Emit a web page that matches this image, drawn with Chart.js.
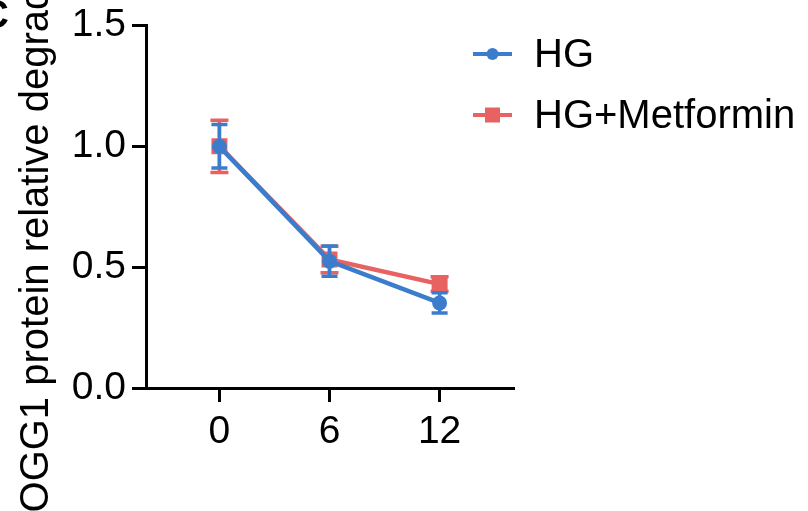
<!DOCTYPE html>
<html>
<head>
<meta charset="utf-8">
<script src="https://cdn.jsdelivr.net/npm/chart.js@4"></script>
<style>
  html, body { margin: 0; padding: 0; background: #fff; }
</style>
</head>
<body>
<canvas id="chart" width="808" height="511"></canvas>
<script>
const timepoints = [0, 6, 12];
const hgValues = [1.0, 0.525, 0.352];
const hgErrors = [0.09, 0.063, 0.042];
const metforminValues = [1.0, 0.532, 0.43];
const metforminErrors = [0.108, 0.055, 0.03];
const yTicks = [0, 0.5, 1.0, 1.5];

const blue = '#3b7dcc';
const red = '#e86262';

Chart.defaults.font.family = '"Liberation Sans", Arial, sans-serif';
Chart.defaults.color = '#000';

// error bars drawn under each dataset's own markers
const errorBars = {
  id: 'errorBars',
  beforeDatasetDraw(chart, args) {
    const ds = chart.data.datasets[args.index];
    const { x, y } = chart.scales;
    const ctx = chart.ctx;
    const half = ds.capHalf;
    ctx.save();
    ctx.strokeStyle = ds.borderColor;
    ctx.lineWidth = 3.5;
    ds.errors.forEach((e, i) => {
      const px = x.getPixelForValue(ds.data[i].x);
      const top = y.getPixelForValue(ds.data[i].y + e);
      const bot = y.getPixelForValue(ds.data[i].y - e);
      ctx.beginPath();
      ctx.moveTo(px, top); ctx.lineTo(px, bot);
      ctx.moveTo(px - half, top); ctx.lineTo(px + half, top);
      ctx.moveTo(px - half, bot); ctx.lineTo(px + half, bot);
      ctx.stroke();
    });
    ctx.restore();
  }
};

// legend with line + marker, sitting over the right edge of the plot
const sideLegend = {
  id: 'sideLegend',
  afterDraw(chart) {
    const ctx = chart.ctx;
    const area = chart.chartArea;
    ctx.save();
    chart.data.datasets.forEach((ds, i) => {
      const yy = 54 + i * 61;
      const x0 = area.right - 40, x1 = area.right - 1, xm = (x0 + x1) / 2;
      ctx.strokeStyle = ds.borderColor;
      ctx.fillStyle = ds.borderColor;
      ctx.lineWidth = 4;
      ctx.beginPath();
      ctx.moveTo(x0, yy); ctx.lineTo(x1, yy);
      ctx.stroke();
      if (ds.pointStyle === 'rect') {
        ctx.fillRect(xm - 7.5, yy - 7.5, 15, 15);
      } else {
        ctx.beginPath();
        ctx.arc(xm, yy, 6, 0, Math.PI * 2);
        ctx.fill();
      }
      ctx.fillStyle = '#000';
      ctx.font = '40px "Liberation Sans", Arial, sans-serif';
      ctx.textBaseline = 'middle';
      ctx.fillText(ds.label, area.right + 21, yy + 1.5);
    });
    // panel letter, mostly cut off at the left edge
    ctx.font = 'bold 40px "Liberation Sans", Arial, sans-serif';
    ctx.textAlign = 'right';
    ctx.textBaseline = 'alphabetic';
    ctx.fillText('C', 9, 28);
    ctx.restore();
  }
};

new Chart(document.getElementById('chart'), {
  type: 'line',
  data: {
    datasets: [
      {
        label: 'HG',
        data: timepoints.map((t, i) => ({ x: t, y: hgValues[i] })),
        errors: hgErrors,
        capHalf: 8,
        borderColor: blue,
        backgroundColor: blue,
        borderWidth: 4.5,
        pointStyle: 'circle',
        pointRadius: 7.5,
        pointBorderWidth: 0,
      },
      {
        label: 'HG+Metformin',
        data: timepoints.map((t, i) => ({ x: t, y: metforminValues[i] })),
        errors: metforminErrors,
        capHalf: 9,
        borderColor: red,
        backgroundColor: red,
        borderWidth: 4.5,
        pointStyle: 'rect',
        pointRadius: 11.3,
        pointBorderWidth: 0,
      },
    ],
  },
  options: {
    responsive: false,
    animation: false,
    devicePixelRatio: 1,
    layout: { padding: { top: 18, right: 295, left: 0, bottom: 0 } },
    plugins: { legend: { display: false }, tooltip: { enabled: false } },
    scales: {
      x: {
        type: 'linear',
        min: -4,
        max: 16,
        afterBuildTicks: (s) => { s.ticks = timepoints.map((v) => ({ value: v })); },
        afterFit: (s) => { s.height = 123; },
        ticks: { font: { size: 39 }, color: '#000', padding: 7 },
        grid: { drawOnChartArea: false, drawTicks: true, tickLength: 14, lineWidth: 3, color: '#000' },
        border: { color: '#000', width: 3 },
      },
      y: {
        min: 0,
        max: 1.5,
        afterBuildTicks: (s) => { s.ticks = yTicks.map((v) => ({ value: v })); },
        afterFit: (s) => { s.width = 146; },
        ticks: { font: { size: 39, lineHeight: 1.0 }, color: '#000', padding: 6, callback: (v) => v.toFixed(1) },
        grid: { drawOnChartArea: false, drawTicks: true, tickLength: 14, lineWidth: 3, color: '#000' },
        border: { color: '#000', width: 3 },
        title: {
          display: true,
          text: 'OGG1 protein relative degradation',
          font: { size: 40 },
          color: '#000',
          padding: { top: 13, bottom: 0 },
        },
      },
    },
  },
  plugins: [errorBars, sideLegend],
});
</script>
</body>
</html>
